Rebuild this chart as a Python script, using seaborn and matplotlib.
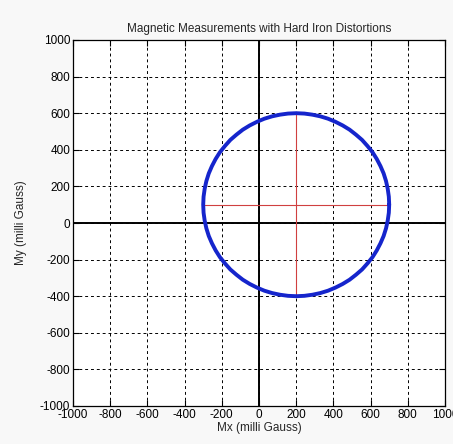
import numpy as np
import pandas as pd
import seaborn as sns
import matplotlib.pyplot as plt

# magnetometer readings (milli Gauss)
mx = [700, 698, 692, 683, 670, 653, 633, 610, 583, 554, 521, 487, 450, 411,
      371, 329, 287, 244, 200, 156, 113, 71, 29, -11, -50, -87, -121, -154,
      -183, -210, -233, -253, -270, -283, -292, -298, -300, -298, -292, -283,
      -270, -253, -233, -210, -183, -154, -121, -87, -50, -11, 29, 71, 113,
      156, 200, 244, 287, 329, 371, 411, 450, 487, 521, 554, 583, 610, 633,
      653, 670, 683, 692, 698, 700]
my = [100, 144, 187, 229, 271, 311, 350, 387, 421, 454, 483, 510, 533, 553,
      570, 583, 592, 598, 600, 598, 592, 583, 570, 553, 533, 510, 483, 454,
      421, 387, 350, 311, 271, 229, 187, 144, 100, 56, 13, -29, -71, -111,
      -150, -187, -221, -254, -283, -310, -333, -353, -370, -383, -392, -398,
      -400, -398, -392, -383, -370, -353, -333, -310, -283, -254, -221, -187,
      -150, -111, -71, -29, 13, 56, 100]

# hard iron crosshair (min/max extents)
cross_x = [-300, 700]
cross_y = [-400, 600]
center = (200, 100)

ticks = list(range(-1000, 1001, 200))

df = pd.DataFrame({"Mx": mx, "My": my})

sns.set_style("white")
plt.rcParams['font.family'] = ['Liberation Sans', 'DejaVu Sans']
plt.rcParams['axes.unicode_minus'] = False

fig = plt.figure(figsize=(4.53, 4.44), dpi=100, facecolor="#f8f8f8")
ax = fig.add_axes([73/453, 1 - 406/444, 372/453, 366/444])

ax.set_xlim(-1000, 1000)
ax.set_ylim(-1000, 1000)
ax.set_xticks(ticks)
ax.set_yticks(ticks)
ax.grid(True, color="black", linestyle=(0, (3, 3)), linewidth=0.7)

ax.axhline(0, color="black", lw=1.4, zorder=2)
ax.axvline(0, color="black", lw=1.4, zorder=2)

ax.plot(cross_x, [center[1], center[1]], color="#d04040", lw=0.8, zorder=3)
ax.plot([center[0], center[0]], cross_y, color="#d04040", lw=0.8, zorder=3)

sns.lineplot(data=df, x="Mx", y="My", sort=False, estimator=None,
             color="#1525cc", lw=2.8, ax=ax, zorder=4,
             solid_joinstyle="round", solid_capstyle="round")

for s in ax.spines.values():
    s.set_color("black")
    s.set_linewidth(0.9)
ax.tick_params(direction="in", length=4, labelsize=8.5, colors="black",
               top=True, right=True, bottom=True, left=True, pad=2)

ax.set_title("Magnetic Measurements with Hard Iron Distortions", fontsize=8.5, pad=6)
ax.set_xlabel("Mx (milli Gauss)", fontsize=8.5, labelpad=1)
ax.set_ylabel("My (milli Gauss)", fontsize=8.5, labelpad=9)

fig.savefig("out.png", dpi=100, facecolor=fig.get_facecolor())
